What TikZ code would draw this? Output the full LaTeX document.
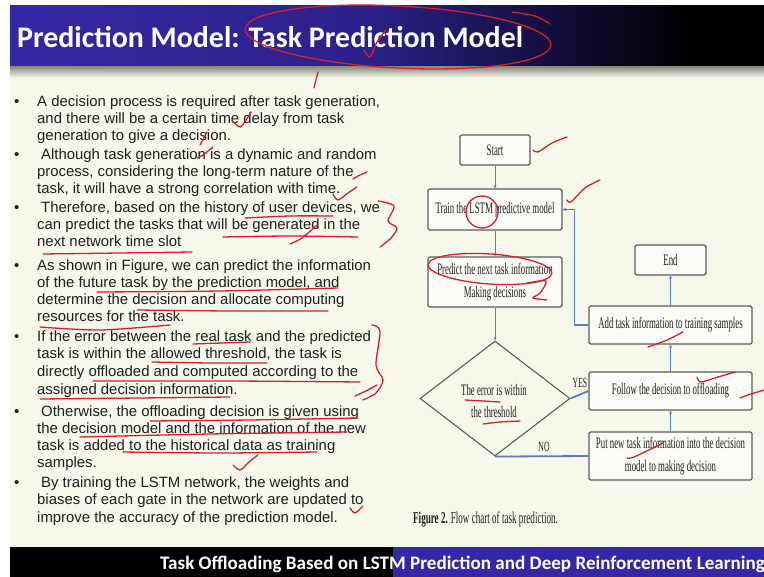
\documentclass[tikz,border=0pt]{standalone}
\usepackage{fontspec}
\setmainfont{Liberation Sans}
\newfontfamily\titlefont{Carlito}
\newfontfamily\figfont[FakeStretch=0.55]{Liberation Serif}
\usetikzlibrary{arrows.meta,shapes.geometric}

\definecolor{barblue}{HTML}{3528A6}
\definecolor{slidebg}{HTML}{F6F8EC}
\definecolor{inkred}{HTML}{D4202A}
\definecolor{flowblue}{HTML}{5A7BC2}
\definecolor{boxgray}{HTML}{5C5C5C}
\definecolor{txt}{HTML}{1E1E1E}
\definecolor{shadowgray}{HTML}{8E9082}

\pgfdeclarehorizontalshading{titlebar}{100bp}{color(0bp)=(barblue); color(25bp)=(barblue); color(49bp)=(barblue!82!black); color(70bp)=(black); color(100bp)=(black)}

\tikzset{
  bodytxt/.style={anchor=base west, inner sep=0pt, text=txt,
    font=\fontsize{14.9}{17}\selectfont},
  fbox/.style={draw=boxgray, line width=1.1pt, rounded corners=1.5pt,
    fill=white!60!slidebg, inner sep=1pt, align=center, text=txt,
    font={\figfont\fontsize{16}{23}\selectfont}},
  flow/.style={draw=flowblue, line width=0.9pt,
    -{Stealth[length=3.5pt,width=3pt]}},
  flowthick/.style={draw=flowblue, line width=1.8pt},
  lbl/.style={inner sep=0pt, text=txt, font={\figfont\fontsize{14}{16}\selectfont}},
  ink/.style={draw=inkred, line width=1.3pt, line cap=round, line join=round},
}

\begin{document}
\begin{tikzpicture}[x=1pt,y=-1pt]
\useasboundingbox (0,0) rectangle (764,577);

% slide background, title bar and footer
\fill[white] (0,0) rectangle (764,577);
\fill[slidebg] (10,67) rectangle (764,547);
\shade[shading=titlebar] (10,6) rectangle (764,67);
\shade[top color=shadowgray, bottom color=slidebg] (10,67) rectangle (764,78);
\fill[black] (10,547) rectangle (393,577);
\fill[barblue] (393,547) rectangle (764,577);

\node[anchor=base west, inner sep=0pt, text=white,
  font=\titlefont\bfseries\fontsize{29.9}{32}\selectfont] (title) at (17,48)
  {Prediction Model: Task Prediction Model};
\node[anchor=base west, inner sep=0pt, text=white,
  font=\titlefont\bfseries\fontsize{19.1}{22}\selectfont] (foot) at (160,569)
  {Task Offloading Based on LSTM Prediction and Deep Reinforcement Learning};

% bullet list
\foreach \by [count=\i] in {107,160,213,271,342,417,488}
  \node[bodytxt] (b\i) at (14,\by) {\textbullet};

\node[bodytxt] (l1) at (37,107) {A decision process is required after task generation,};
\node[bodytxt] (l2) at (37,124) {and there will be a certain time delay from task};
\node[bodytxt] (l3) at (37,141) {generation to give a decision.};
\node[bodytxt] (l4) at (37,160) {\hspace{4pt}Although task generation is a dynamic and random};
\node[bodytxt] (l5) at (37,177) {process, considering the long-term nature of the};
\node[bodytxt] (l6) at (37,194) {task, it will have a strong correlation with time.};
\node[bodytxt] (l7) at (37,213) {\hspace{4pt}Therefore, based on the history of user devices, we};
\node[bodytxt] (l8) at (37,230) {can predict the tasks that will be generated in the};
\node[bodytxt] (l9) at (37,247) {next network time slot};
\node[bodytxt] (l10) at (37,271) {As shown in Figure, we can predict the information};
\node[bodytxt] (l11) at (37,288) {of the future task by the prediction model, and};
\node[bodytxt] (l12) at (37,305) {determine the decision and allocate computing};
\node[bodytxt] (l13) at (37,322) {resources for the task.};
\node[bodytxt] (l14) at (37,342) {If the error between the real task and the predicted};
\node[bodytxt] (l15) at (37,359) {task is within the allowed threshold, the task is};
\node[bodytxt] (l16) at (37,377) {directly offloaded and computed according to the};
\node[bodytxt] (l17) at (37,395) {assigned decision information.};
\node[bodytxt] (l18) at (37,417) {\hspace{4pt}Otherwise, the offloading decision is given using};
\node[bodytxt] (l19) at (37,434) {the decision model and the information of the new};
\node[bodytxt] (l20) at (37,451) {task is added to the historical data as training};
\node[bodytxt] (l21) at (37,468) {samples.};
\node[bodytxt] (l22) at (37,488) {\hspace{4pt}By training the LSTM network, the weights and};
\node[bodytxt] (l23) at (37,505) {biases of each gate in the network are updated to};
\node[bodytxt] (l24) at (37,523) {improve the accuracy of the prediction model.};

% flow chart
\node[fbox, minimum width=70pt, minimum height=30pt] (start) at (495,150) {Start};
\node[fbox, minimum width=134pt, minimum height=41pt] (train) at (495,209.5) {Train the LSTM predictive model};
\node[fbox, minimum width=134pt, minimum height=50pt] (predict) at (495,282) {Predict the next task information\\Making decisions};
\node[fbox, minimum width=71pt, minimum height=30pt] (endn) at (670.5,260) {End};
\node[fbox, minimum width=163pt, minimum height=38pt] (add) at (670.5,325) {Add task information to training samples};
\node[fbox, minimum width=163pt, minimum height=38pt] (follow) at (670.5,391) {Follow the decision to offloading};
\node[fbox, minimum width=163pt, minimum height=48pt] (put) at (670.5,456) {Put new task information into the decision\\model to making decision};
\node[draw=boxgray, line width=1.1pt, diamond, minimum width=150pt, minimum height=115pt,
  inner sep=0pt] (dec) at (495,398.5) {};
\node[inner sep=0pt, align=center, text=txt, font={\figfont\fontsize{16}{22}\selectfont}]
  (dectext) at (494,401) {The error is within\\the threshold};

\draw[flow] (start) -- (train);
\draw[flow] (train) -- (predict);
\draw[flow] (predict) -- (dec);
\draw[flowthick] (dec.east) -- (follow.west);
\draw[flowthick] (dec.south) -- (put.west);
\draw[flow] (put) -- (follow);
\draw[flow] (follow) -- (add);
\draw[flow] (add) -- (endn);
\draw[flow, line width=1.2pt] (add.west) -- ++(-14,0) |- (train.east);

\node[lbl] (yes) at (580,383) {YES};
\node[lbl] (no) at (544,447) {NO};

\node[anchor=base west, inner sep=0pt, text=txt, font={\figfont\fontsize{16.5}{18}\selectfont}]
  (cap) at (413,524) {\textbf{Figure 2.} Flow chart of task prediction.};

% pen marks
\draw[ink] (398,37) ellipse [x radius=153, y radius=31, rotate=-3];
\draw[ink] plot[smooth] coordinates {(512,12) (535,16) (550,24)};
\draw[ink] plot[smooth] coordinates {(364,50) (370,57) (377,42) (386,30)};
\draw[ink] (318,72) -- (314,88);
\draw[ink] plot[smooth] coordinates {(232,121) (240,127) (246,120) (251,112)};
\draw[ink] (200,145) -- (207,132);
\draw[ink] plot[smooth] coordinates {(197,158) (203,155) (213,147)};
\draw[ink] plot[smooth] coordinates {(353,179) (360,175) (367,172)};
\draw[ink] plot[smooth] coordinates {(333,194) (338,200) (348,193) (357,187)};
\draw[ink] plot[smooth] coordinates {(245,218) (290,216) (333,216)};
\draw[ink] plot[smooth] coordinates {(378,201) (394,206) (388,221) (397,228) (391,238) (380,247)};
\draw[ink] plot[smooth] coordinates {(223,237) (290,236) (358,237)};
\draw[ink] plot[smooth] coordinates {(290,244) (302,238) (317,225)};
\draw[ink] plot[smooth] coordinates {(43,254) (120,253) (192,252)};
\draw[ink] plot[smooth] coordinates {(97,292) (220,291) (338,288)};
\draw[ink] plot[smooth] coordinates {(137,310) (230,311) (328,311)};
\draw[ink] plot[smooth] coordinates {(40,327) (100,330) (170,325)};
\draw[ink] plot[smooth] coordinates {(193,344) (222,343) (250,342)};
\draw[ink] plot[smooth] coordinates {(152,362) (210,363) (267,363)};
\draw[ink] plot[smooth] coordinates {(93,381) (230,381) (360,382)};
\draw[ink] plot[smooth] coordinates {(40,399) (140,398) (230,397)};
\draw[ink] plot[smooth] coordinates {(372,325) (380,331) (376,365) (383,380) (376,393) (363,400)};
\draw[ink] plot[smooth] coordinates {(355,396) (366,391) (377,385)};
\draw[ink] plot[smooth] coordinates {(150,421) (250,420) (358,418)};
\draw[ink] plot[smooth] coordinates {(80,437) (210,434) (347,432)};
\draw[ink] plot[smooth] coordinates {(123,452) (220,453) (317,452)};
\draw[ink] plot[smooth] coordinates {(233,465) (240,470) (249,462) (258,455)};
\draw[ink] plot[smooth] coordinates {(350,508) (355,513) (363,506)};
% pen marks on the flow chart
\draw[ink] plot[smooth] coordinates {(533,150) (538,152) (552,143) (567,137)};
\draw[ink] plot[smooth] coordinates {(567,200) (571,202) (585,188) (600,180)};
\draw[ink] (482,212) circle [radius=16];
\draw[ink] (490,269) ellipse [x radius=62, y radius=15, rotate=-4];
\draw[ink] plot[smooth] coordinates {(527,283) (546,281) (540,293) (533,298) (547,300)};
\draw[ink] plot[smooth] coordinates {(648,347) (667,340) (683,332)};
\draw[ink] plot[smooth] coordinates {(697,377) (701,382) (718,377) (735,372)};
\draw[ink] plot[smooth] coordinates {(740,398) (748,395) (764,390)};
\draw[ink] plot[smooth] coordinates {(627,458) (634,457) (663,443)};
\draw[ink] plot[smooth] coordinates {(465,400) (483,401) (500,402)};
\draw[ink] plot[smooth] coordinates {(483,424) (500,422) (520,421)};
\end{tikzpicture}
\end{document}
